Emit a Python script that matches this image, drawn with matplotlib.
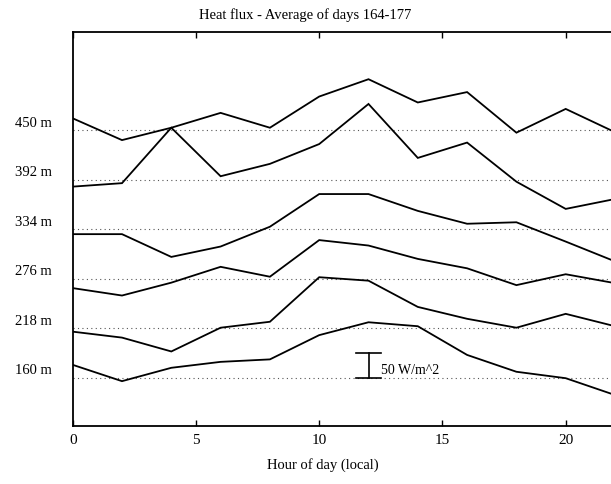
import matplotlib
matplotlib.use("Agg")
import matplotlib.pyplot as plt
import matplotlib.transforms as mtransforms

plt.rcParams['font.family'] = ['Liberation Serif', 'DejaVu Serif']

hours = [0, 2, 4, 6, 8, 10, 12, 14, 16, 18, 20, 22]
levels = ["160 m", "218 m", "276 m", "334 m", "392 m", "450 m"]
level_offset = 100  # W/m^2 spacing between stacked levels

flux_160 = [26, -7, 20, 32, 37, 86, 112, 104, 46, 12, -1, -35]
flux_218 = [-7, -19, -47, 1, 13, 103, 96, 43, 19, 1, 29, 4]
flux_276 = [-19, -34, -8, 24, 4, 78, 67, 40, 21, -13, 9, -9]
flux_334 = [-10, -10, -56, -35, 5, 71, 71, 37, 11, 14, -25, -65]
flux_392 = [-14, -7, 105, 7, 32, 72, 153, 44, 75, -4, -59, -39]
flux_450 = [24, -20, 5, 35, 5, 68, 103, 56, 77, -5, 43, -4]
series = [flux_160, flux_218, flux_276, flux_334, flux_392, flux_450]

scale_value = 50
scale_hour = 12
xticks = [0, 5, 10, 15, 20]

W, H = 611, 484
fig = plt.figure(figsize=(W / 100, H / 100), dpi=100)
left, right, top, bottom = 72.7, 611, 32.3, 426
ax = fig.add_axes([left / W, (H - bottom) / H, (right - left) / W, (bottom - top) / H])

for i, (lab, vals) in enumerate(zip(levels, series)):
    base = i * level_offset
    ax.axhline(base, color='#555555', lw=0.8, ls=(0, (1, 3)), zorder=1)
    ax.plot(hours, [base + v for v in vals], color='black', lw=1.3, zorder=3,
            solid_joinstyle='miter')
    trans = mtransforms.offset_copy(ax.get_yaxis_transform(), fig=fig, x=-20.7, y=7, units='dots')
    ax.text(0, base, lab, transform=trans, ha='right', va='center', fontsize=10.5)

# scale bar
ax.plot([scale_hour, scale_hour], [0, scale_value], color='black', lw=1.2, zorder=4)
ax.plot([scale_hour - 0.5, scale_hour + 0.5], [0, 0], color='black', lw=1.2, zorder=4)
ax.plot([scale_hour - 0.5, scale_hour + 0.5], [scale_value, scale_value], color='black', lw=1.2, zorder=4)
ax.text(scale_hour + 0.5, 15, "50 W/m^2", ha='left', va='center', fontsize=10)

ax.set_xlim(0, (right - left) / 24.65)
ax.set_ylim((377.7 - bottom) / 0.495, (377.7 - top) / 0.495)
ax.set_xticks(xticks)
ax.set_xticklabels([str(t) for t in xticks], fontsize=11)
ax.set_yticks([])
ax.tick_params(axis='x', direction='in', top=True, length=4, width=1, pad=6)
ax.spines['right'].set_visible(False)
for s in ['left', 'top', 'bottom']:
    ax.spines[s].set_linewidth(1.3)

fig.text(305 / W, 1 - 15 / H, "Heat flux - Average of days 164-177", ha='center', va='center', fontsize=10.5)
fig.text(323 / W, 1 - 465 / H, "Hour of day (local)", ha='center', va='center', fontsize=10.5)

fig.savefig("out.png", dpi=100)
